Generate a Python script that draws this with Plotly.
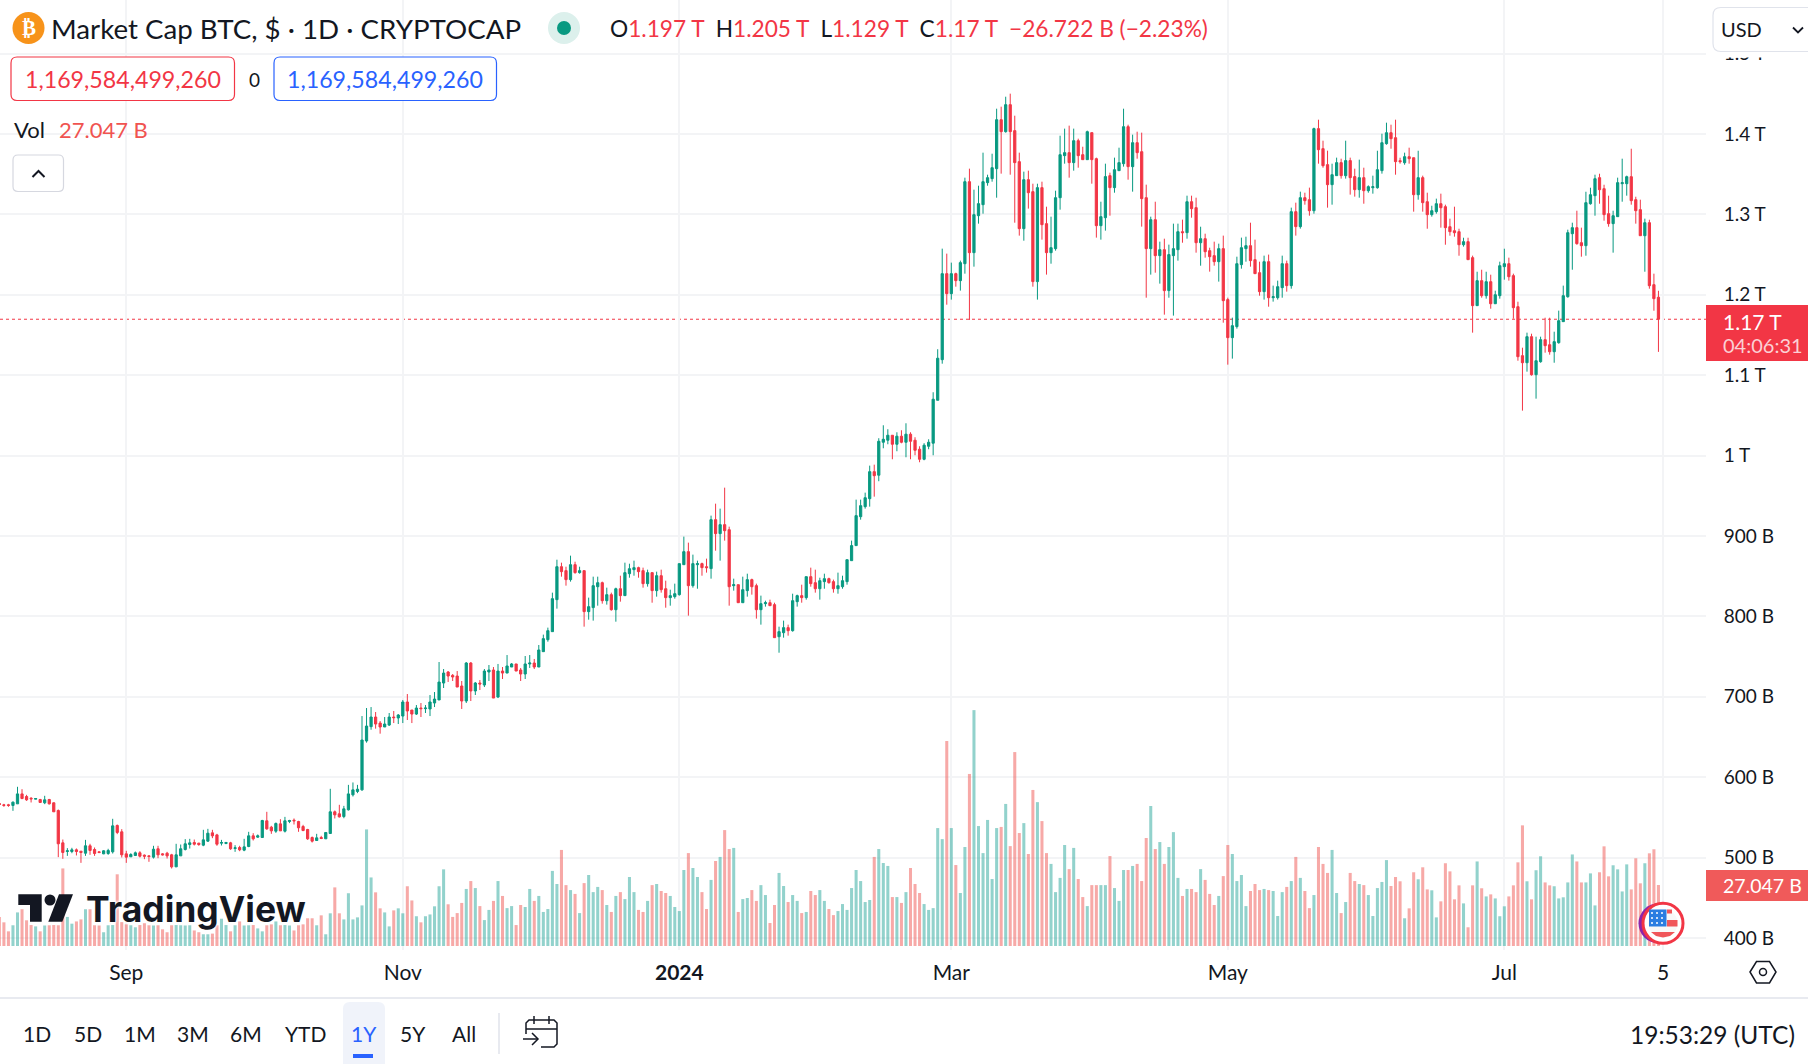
import pandas as pd
import plotly.graph_objects as go

W = 1808
H = 1064
PLOT_R = 1706  # right edge of the pane, price scale starts here
PLOT_B = 950

# daily candles from 4 Aug 2023 to 4 Aug 2024, billions of dollars
directions = (
    "ddduudddud" "udddduuddu" "ddduuudddu" "uddduddddu" "uuudduuddu" "ududuuduud" "duduuddddd"
    "uduudduuuu" "uuudduuduu" "dduduuuuud" "dddududuud" "uduudduudu" "uuuuddudud" "uuudududuu"
    "uddududduu" "uuduuddudu" "dduduudduu" "dduuduudud" "duudduuuuu" "uuuduuudud" "uddduuuuud"
    "uduuduuuuu" "ududdduddu" "dduuuududd" "udduuduuud" "udddududuu" "ududdudddu" "dduuuudddu"
    "duuudududd" "uddduududd" "uduuuuuddd" "uddudduudd" "ddduddudud" "uuuddddudu" "udduuuuudd"
    "uuuddduuuu" "ddduddd"
)

body_tops = [
    567.2, 565.6, 565.6, 568.9, 579.2, 579.2, 575.9, 573.8, 573.4, 572.2,
    571.8, 572.2, 568.1, 558.5, 518.3, 508.4, 509.6, 509.6, 507.9, 514.6,
    514.6, 510.0, 507.1, 508.4, 508.8, 539.4, 539.9, 532.0, 504.6, 503.8,
    505.9, 505.9, 503.0, 502.1, 510.4, 510.9, 504.6, 505.4, 503.4, 503.4,
    510.9, 517.1, 518.3, 518.7, 517.9, 522.0, 530.3, 530.7, 528.2, 518.7,
    518.7, 518.3, 512.1, 512.5, 513.3, 527.0, 527.0, 527.0, 546.1, 545.7,
    537.8, 542.4, 541.9, 545.7, 546.1, 546.5, 544.8, 538.6, 534.9, 524.9,
    524.5, 524.9, 531.2, 556.9, 556.9, 554.4, 560.6, 579.2, 584.2, 585.0,
    646.2, 663.6, 674.8, 674.8, 667.3, 666.1, 674.8, 674.8, 677.3, 693.5,
    693.5, 683.5, 686.0, 686.0, 686.0, 693.5, 697.2, 718.3, 729.5, 730.8,
    726.6, 725.8, 713.4, 742.0, 742.0, 717.1, 717.1, 732.0, 733.3, 733.3,
    732.0, 732.0, 738.3, 740.8, 740.8, 733.3, 740.8, 742.0, 742.0, 758.2,
    772.3, 782.2, 822.0, 861.8, 861.8, 856.9, 864.3, 864.3, 856.9, 856.9,
    812.1, 838.2, 841.9, 841.9, 827.0, 827.0, 834.4, 834.4, 854.4, 859.3,
    860.6, 860.6, 856.9, 854.4, 854.4, 850.6, 850.6, 834.4, 825.8, 828.2,
    865.6, 880.5, 880.5, 865.6, 865.6, 865.6, 861.8, 920.3, 920.3, 914.1,
    914.1, 907.8, 839.4, 839.4, 833.2, 845.7, 845.7, 838.2, 815.8, 817.0,
    817.0, 814.6, 781.0, 786.0, 786.0, 819.5, 825.8, 825.8, 849.4, 849.4,
    841.9, 844.4, 846.9, 846.9, 843.2, 838.2, 844.4, 870.5, 888.0, 925.3,
    937.7, 947.6, 980.0, 980.0, 1017.8, 1020.3, 1025.3, 1025.3, 1024.1, 1024.1,
    1026.6, 1026.6, 1019.1, 1007.9, 1012.9, 1016.6, 1070.1, 1121.1, 1226.3, 1226.3,
    1226.3, 1226.3, 1240.0, 1340.7, 1340.7, 1299.7, 1313.4, 1340.7, 1345.7, 1358.1,
    1417.8, 1417.8, 1436.5, 1436.5, 1404.2, 1365.6, 1343.2, 1343.2, 1328.3, 1333.3,
    1333.3, 1288.5, 1258.6, 1320.8, 1374.3, 1376.8, 1376.8, 1391.7, 1391.7, 1374.3,
    1402.9, 1401.7, 1369.3, 1297.2, 1347.0, 1348.2, 1355.6, 1364.4, 1409.1, 1409.1,
    1389.2, 1389.2, 1378.0, 1320.8, 1293.4, 1293.4, 1256.1, 1256.1, 1250.0, 1257.4,
    1278.5, 1278.5, 1315.8, 1315.8, 1308.4, 1269.8, 1269.8, 1254.9, 1248.7, 1257.4,
    1257.4, 1194.0, 1161.6, 1238.7, 1258.6, 1261.1, 1261.1, 1243.7, 1227.5, 1241.2,
    1241.2, 1197.7, 1210.1, 1238.7, 1238.7, 1303.4, 1303.4, 1320.8, 1320.8, 1318.3,
    1406.7, 1406.7, 1381.8, 1361.9, 1349.4, 1364.4, 1364.4, 1366.9, 1366.9, 1347.0,
    1345.7, 1345.7, 1334.5, 1334.5, 1355.6, 1389.2, 1401.6, 1401.6, 1395.4, 1366.8,
    1371.8, 1371.8, 1370.5, 1345.7, 1345.7, 1315.8, 1304.6, 1313.3, 1313.3, 1309.6,
    1284.7, 1279.7, 1278.5, 1266.1, 1266.1, 1246.2, 1217.6, 1217.6, 1216.3, 1216.3,
    1200.1, 1236.2, 1238.7, 1238.7, 1223.8, 1185.2, 1124.3, 1147.9, 1147.9, 1118.0,
    1144.2, 1144.2, 1137.9, 1141.7, 1167.8, 1198.9, 1277.3, 1283.5, 1283.5, 1264.8,
    1314.6, 1324.5, 1344.4, 1345.7, 1332.0, 1300.9, 1298.4, 1339.5, 1339.5, 1346.9,
    1346.9, 1318.3, 1305.9, 1289.7, 1289.7, 1212.6, 1197.0,
]
body_bottoms = [
    566.0, 564.8, 564.8, 564.8, 566.8, 573.4, 571.8, 573.0, 572.6, 568.5,
    568.1, 566.8, 556.9, 517.1, 506.3, 507.5, 507.5, 507.5, 506.3, 505.4,
    508.8, 505.0, 506.3, 504.6, 505.0, 507.1, 531.2, 503.4, 500.5, 500.9,
    502.5, 501.7, 501.7, 501.3, 500.5, 503.4, 503.4, 502.1, 488.4, 488.4,
    502.1, 510.0, 516.2, 516.6, 516.2, 515.4, 520.4, 527.0, 516.6, 517.9,
    517.5, 510.9, 511.3, 509.6, 509.2, 513.7, 523.3, 525.4, 524.9, 535.7,
    533.2, 532.8, 533.2, 532.8, 544.8, 545.7, 537.0, 533.6, 523.3, 520.4,
    521.2, 523.7, 523.3, 529.9, 553.1, 550.6, 551.0, 559.4, 578.0, 582.2,
    584.2, 645.0, 662.8, 666.1, 662.4, 662.4, 664.8, 674.0, 673.6, 676.0,
    682.3, 678.5, 678.5, 685.2, 685.2, 684.8, 692.2, 696.0, 717.1, 725.8,
    724.6, 712.1, 694.7, 694.7, 707.2, 707.2, 715.9, 714.6, 730.8, 698.4,
    699.7, 729.5, 729.5, 737.0, 732.0, 728.3, 728.3, 740.8, 737.0, 737.0,
    756.1, 771.0, 781.0, 820.8, 855.6, 845.7, 845.7, 854.4, 854.4, 805.9,
    805.9, 810.9, 836.9, 819.5, 819.5, 808.3, 808.3, 825.8, 825.8, 853.1,
    858.1, 855.6, 840.7, 840.7, 832.0, 832.0, 833.2, 823.3, 823.3, 824.5,
    827.0, 864.3, 838.2, 838.2, 864.3, 860.6, 860.6, 859.4, 902.9, 902.9,
    906.6, 836.9, 838.2, 817.0, 817.0, 832.0, 836.9, 808.3, 808.3, 815.8,
    813.3, 773.5, 774.7, 779.7, 782.2, 782.2, 818.3, 823.3, 823.3, 840.7,
    834.4, 834.4, 843.2, 841.9, 834.4, 834.4, 836.9, 843.2, 869.3, 888.0,
    924.0, 936.5, 946.4, 975.0, 975.6, 1016.6, 1019.1, 1014.1, 1014.1, 1016.6,
    1016.6, 1017.8, 1006.6, 995.4, 995.4, 1011.6, 1015.4, 1068.8, 1119.3, 1201.4,
    1201.4, 1217.6, 1217.6, 1238.7, 1252.4, 1252.4, 1298.4, 1312.1, 1339.5, 1344.5,
    1356.9, 1402.9, 1402.9, 1402.9, 1364.4, 1282.3, 1282.3, 1327.0, 1216.4, 1216.4,
    1287.2, 1252.4, 1252.4, 1257.4, 1320.8, 1373.1, 1364.4, 1364.4, 1373.1, 1368.1,
    1368.1, 1368.1, 1286.0, 1286.0, 1295.9, 1333.3, 1333.3, 1354.4, 1363.1, 1359.4,
    1359.4, 1376.8, 1319.6, 1257.4, 1257.4, 1248.7, 1248.7, 1205.2, 1205.2, 1248.7,
    1256.1, 1277.3, 1277.3, 1307.1, 1264.8, 1264.8, 1253.6, 1247.4, 1241.2, 1241.2,
    1192.7, 1146.7, 1146.7, 1160.4, 1237.5, 1257.4, 1242.5, 1226.3, 1203.9, 1203.9,
    1196.4, 1196.4, 1196.4, 1208.9, 1211.4, 1211.4, 1284.8, 1284.8, 1317.1, 1304.6,
    1304.6, 1380.5, 1360.6, 1337.0, 1337.0, 1348.2, 1348.2, 1348.2, 1345.7, 1330.8,
    1330.8, 1329.5, 1329.5, 1333.2, 1333.2, 1354.4, 1388.0, 1394.2, 1365.6, 1365.6,
    1364.3, 1369.3, 1324.5, 1324.5, 1314.6, 1299.7, 1299.7, 1303.4, 1308.3, 1283.5,
    1278.5, 1277.2, 1262.3, 1262.3, 1243.7, 1186.5, 1186.5, 1198.9, 1198.9, 1188.9,
    1188.9, 1198.9, 1235.0, 1222.5, 1184.0, 1123.0, 1115.5, 1115.5, 1100.6, 1100.6,
    1116.8, 1136.7, 1129.2, 1129.2, 1140.4, 1166.6, 1197.6, 1276.0, 1263.6, 1261.1,
    1261.1, 1313.3, 1323.3, 1330.7, 1299.7, 1288.5, 1288.5, 1297.2, 1338.2, 1338.2,
    1317.1, 1304.6, 1273.5, 1273.5, 1211.3, 1195.2, 1169.6,
]
highs = [
    568.1, 566.8, 566.8, 569.7, 588.0, 585.0, 578.0, 575.1, 573.4, 573.0,
    576.8, 573.0, 568.5, 559.8, 522.4, 511.7, 512.1, 511.3, 507.9, 522.0,
    517.1, 512.5, 507.9, 509.2, 510.9, 548.2, 541.1, 535.3, 508.4, 505.4,
    507.5, 507.9, 503.8, 503.0, 514.6, 514.6, 505.4, 507.1, 504.6, 517.1,
    516.2, 522.9, 523.3, 522.4, 518.3, 534.5, 535.7, 534.5, 529.5, 522.0,
    519.5, 519.5, 515.4, 514.6, 523.3, 532.0, 530.3, 528.7, 546.9, 556.9,
    539.4, 543.6, 547.7, 550.6, 546.9, 548.6, 545.7, 540.7, 535.7, 526.2,
    529.5, 527.0, 531.2, 585.5, 558.5, 565.6, 564.3, 590.4, 593.4, 590.4,
    676.0, 686.0, 687.2, 681.0, 669.8, 674.8, 679.8, 682.3, 678.5, 696.0,
    703.4, 683.5, 689.7, 692.2, 689.7, 702.2, 705.9, 743.2, 734.5, 732.0,
    728.3, 732.0, 719.6, 743.2, 743.2, 718.4, 720.8, 734.5, 739.5, 737.0,
    740.8, 737.0, 751.9, 742.0, 740.8, 735.8, 750.7, 751.9, 747.0, 764.4,
    777.3, 786.0, 829.5, 870.5, 866.8, 861.8, 875.5, 868.0, 861.8, 856.9,
    823.3, 849.4, 849.4, 843.2, 835.7, 829.5, 835.7, 850.6, 866.8, 865.5,
    869.3, 861.8, 860.6, 858.1, 854.4, 855.6, 858.1, 844.4, 833.2, 840.7,
    865.6, 899.2, 891.7, 876.8, 869.3, 866.8, 871.8, 925.3, 940.2, 934.0,
    960.1, 911.6, 846.9, 839.4, 849.4, 853.1, 846.9, 840.7, 825.8, 819.5,
    820.8, 817.0, 787.2, 794.7, 789.7, 828.2, 827.0, 839.4, 849.4, 860.6,
    858.1, 848.1, 853.1, 848.1, 845.7, 854.4, 850.6, 870.5, 894.2, 945.2,
    945.2, 953.9, 987.5, 988.7, 1021.6, 1037.7, 1032.8, 1025.3, 1029.0, 1031.5,
    1040.2, 1029.0, 1022.8, 1011.6, 1015.4, 1020.3, 1078.8, 1132.3, 1257.4, 1251.2,
    1240.0, 1227.5, 1242.5, 1345.7, 1356.9, 1330.8, 1335.7, 1376.8, 1349.4, 1375.5,
    1431.5, 1434.0, 1446.4, 1450.2, 1422.8, 1376.8, 1353.2, 1354.4, 1338.2, 1338.2,
    1340.7, 1309.6, 1297.2, 1329.5, 1397.9, 1406.7, 1410.4, 1406.7, 1394.2, 1384.2,
    1404.2, 1401.7, 1370.6, 1315.8, 1363.1, 1351.9, 1370.6, 1383.0, 1431.5, 1411.6,
    1399.2, 1402.9, 1401.7, 1337.0, 1297.2, 1315.8, 1266.1, 1269.8, 1262.4, 1288.5,
    1288.5, 1293.5, 1323.3, 1323.3, 1320.8, 1284.7, 1276.0, 1258.6, 1266.1, 1263.6,
    1273.6, 1196.4, 1171.6, 1247.4, 1271.1, 1272.3, 1289.7, 1268.6, 1241.2, 1248.7,
    1250.0, 1211.4, 1217.6, 1248.7, 1242.5, 1308.4, 1314.6, 1328.3, 1327.0, 1333.3,
    1407.9, 1417.8, 1391.7, 1379.3, 1363.1, 1370.6, 1369.3, 1391.7, 1370.6, 1356.9,
    1368.1, 1358.1, 1336.1, 1348.2, 1379.2, 1400.4, 1414.1, 1411.6, 1417.8, 1370.5,
    1376.8, 1383.0, 1370.5, 1379.2, 1348.2, 1327.0, 1310.8, 1319.6, 1325.8, 1312.1,
    1294.7, 1309.6, 1282.2, 1271.0, 1271.0, 1248.7, 1228.7, 1231.2, 1228.7, 1225.0,
    1205.1, 1241.2, 1257.3, 1246.2, 1226.3, 1191.4, 1134.2, 1152.9, 1151.6, 1147.9,
    1147.9, 1171.5, 1171.5, 1154.1, 1180.3, 1211.4, 1281.0, 1289.7, 1304.6, 1283.5,
    1328.2, 1333.2, 1349.4, 1350.6, 1336.9, 1323.3, 1304.6, 1345.7, 1369.3, 1348.2,
    1381.7, 1322.0, 1318.3, 1294.7, 1293.4, 1226.3, 1205.0,
]
lows = [
    564.8, 563.1, 563.1, 558.1, 566.8, 572.6, 570.5, 568.5, 572.6, 568.1,
    566.4, 566.0, 556.9, 500.5, 498.4, 502.1, 505.4, 502.6, 493.4, 502.1,
    503.4, 502.1, 505.4, 504.2, 503.4, 505.0, 529.1, 500.1, 493.4, 500.9,
    502.1, 500.1, 498.0, 494.7, 498.8, 499.2, 502.6, 498.8, 486.4, 488.4,
    502.1, 508.8, 511.2, 515.0, 514.6, 514.1, 519.5, 524.1, 514.6, 515.0,
    516.6, 509.6, 507.1, 507.9, 507.9, 512.9, 521.2, 524.5, 524.9, 534.5,
    529.5, 530.7, 533.2, 531.2, 542.8, 541.1, 532.0, 532.8, 522.0, 518.7,
    520.8, 522.9, 523.3, 529.9, 548.6, 549.8, 548.9, 558.5, 575.9, 580.1,
    583.0, 642.9, 659.0, 660.3, 654.1, 662.4, 663.6, 667.3, 666.1, 667.3,
    671.1, 667.3, 677.3, 674.8, 679.8, 676.0, 687.2, 696.0, 710.9, 718.4,
    719.6, 712.1, 684.8, 692.2, 694.7, 702.2, 708.4, 712.1, 719.6, 698.4,
    698.4, 722.1, 729.5, 737.0, 732.0, 719.6, 722.1, 735.8, 734.5, 737.0,
    756.1, 768.5, 781.0, 809.6, 849.4, 838.2, 843.2, 853.1, 853.1, 787.2,
    795.9, 794.7, 813.3, 815.8, 814.6, 807.1, 793.4, 818.3, 825.8, 848.1,
    850.6, 848.1, 835.7, 837.0, 817.0, 824.5, 829.5, 810.8, 813.3, 822.0,
    825.8, 864.3, 800.9, 835.7, 834.4, 850.6, 854.4, 846.9, 881.7, 869.3,
    894.2, 813.3, 832.0, 817.0, 817.0, 824.5, 827.0, 797.2, 789.7, 812.1,
    813.3, 773.5, 754.8, 773.5, 776.0, 781.0, 812.1, 817.0, 820.8, 836.9,
    829.5, 820.8, 834.4, 840.7, 829.5, 828.2, 834.4, 839.4, 869.3, 888.0,
    920.3, 934.0, 936.5, 948.9, 968.1, 1009.1, 1014.1, 995.4, 1005.4, 1015.3,
    997.9, 995.4, 1000.4, 991.7, 994.2, 1007.9, 1000.4, 1068.8, 1114.3, 1187.7,
    1194.0, 1210.1, 1205.2, 1226.3, 1168.7, 1235.0, 1288.5, 1300.9, 1335.7, 1340.7,
    1320.8, 1350.7, 1401.7, 1349.4, 1289.7, 1273.6, 1267.3, 1307.2, 1210.1, 1194.0,
    1268.6, 1225.1, 1238.7, 1254.9, 1305.9, 1363.1, 1345.7, 1354.4, 1358.1, 1368.1,
    1368.1, 1338.2, 1271.1, 1268.6, 1279.8, 1298.4, 1327.0, 1354.4, 1359.4, 1343.2,
    1328.3, 1369.3, 1284.8, 1196.4, 1225.1, 1227.5, 1213.9, 1175.3, 1196.4, 1174.1,
    1242.5, 1264.8, 1269.8, 1295.9, 1252.4, 1236.2, 1246.2, 1228.8, 1236.2, 1216.4,
    1165.3, 1113.1, 1120.6, 1157.9, 1232.5, 1241.2, 1235.0, 1226.3, 1198.9, 1194.0,
    1185.2, 1191.5, 1194.0, 1196.4, 1203.9, 1207.6, 1273.6, 1282.3, 1312.1, 1298.4,
    1300.9, 1363.1, 1358.1, 1308.4, 1312.1, 1348.2, 1344.5, 1344.5, 1324.6, 1322.1,
    1320.8, 1313.3, 1327.0, 1325.8, 1332.0, 1350.7, 1386.7, 1381.7, 1349.4, 1363.1,
    1361.8, 1363.1, 1303.4, 1318.3, 1303.4, 1282.2, 1297.2, 1300.9, 1283.5, 1262.3,
    1273.5, 1272.3, 1248.6, 1259.9, 1243.7, 1152.9, 1186.5, 1196.4, 1195.2, 1182.7,
    1188.9, 1195.2, 1218.8, 1217.6, 1170.3, 1118.0, 1055.9, 1104.4, 1099.4, 1070.8,
    1115.5, 1128.0, 1125.5, 1115.5, 1139.2, 1166.6, 1196.4, 1231.2, 1262.3, 1247.4,
    1248.6, 1312.1, 1298.4, 1313.3, 1292.2, 1284.7, 1252.4, 1297.2, 1315.8, 1323.3,
    1312.1, 1288.5, 1273.5, 1228.7, 1207.6, 1180.2, 1129.0,
]
volumes = [
    12.9, 10.5, 6.5, 9.2, 14.9, 16.3, 11.4, 9.3, 8.7, 6.5,
    9.1, 9.2, 9.3, 9.2, 34.4, 12.9, 9.9, 10.9, 11.8, 16.3,
    16.3, 9.2, 9.1, 6.1, 9.2, 9.3, 31.8, 10.6, 9.6, 9.2,
    8.3, 9.3, 10.1, 9.2, 9.1, 9.2, 7.4, 6.1, 9.2, 9.3,
    9.2, 9.1, 9.2, 6.9, 6.1, 5.2, 5.2, 5.5, 9.2, 12.1,
    9.3, 6.5, 9.2, 10.9, 9.1, 9.2, 9.3, 7.8, 6.5, 9.2,
    9.6, 10.9, 9.2, 9.3, 9.1, 6.9, 9.2, 9.6, 12.3, 12.3,
    9.2, 13.6, 5.2, 14.5, 26.0, 14.5, 11.8, 23.4, 11.8, 12.7,
    18.0, 51.7, 30.4, 23.8, 16.7, 14.9, 8.7, 15.8, 16.7, 14.5,
    26.5, 20.2, 13.2, 10.5, 13.2, 14.0, 17.6, 26.5, 34.0, 18.5,
    12.9, 14.6, 19.1, 25.3, 28.8, 25.7, 17.7, 11.5, 16.0, 20.0,
    28.8, 22.2, 16.8, 17.7, 9.3, 18.2, 17.3, 25.3, 20.0, 22.2,
    15.1, 16.4, 33.3, 27.5, 42.6, 27.0, 24.8, 23.1, 14.6, 27.9,
    31.5, 23.9, 26.2, 24.8, 18.2, 15.1, 22.2, 23.9, 20.8, 30.6,
    23.9, 16.0, 15.1, 20.0, 27.0, 27.5, 24.4, 23.5, 22.2, 17.3,
    15.5, 33.7, 41.2, 34.6, 30.6, 23.9, 16.4, 29.3, 37.7, 39.5,
    51.4, 43.0, 43.5, 15.1, 20.8, 21.3, 24.8, 20.0, 27.0, 22.6,
    10.2, 18.2, 32.4, 26.6, 19.5, 22.6, 20.0, 14.6, 15.1, 24.4,
    22.6, 24.8, 20.0, 16.4, 13.7, 15.5, 18.6, 16.0, 25.7, 33.7,
    28.8, 19.5, 20.4, 39.5, 43.0, 36.8, 35.5, 21.7, 21.7, 19.1,
    23.9, 34.6, 27.5, 23.5, 18.6, 16.0, 16.8, 52.3, 47.4, 90.9,
    52.3, 35.9, 23.5, 43.9, 76.3, 104.6, 53.2, 41.2, 55.9, 29.7,
    52.3, 52.8, 63.0, 44.3, 86.0, 50.1, 54.5, 40.8, 69.2, 63.8,
    55.4, 41.2, 36.4, 23.9, 30.2, 44.8, 34.1, 43.5, 29.7, 21.7,
    17.7, 27.0, 27.0, 27.0, 27.0, 39.9, 25.7, 20.0, 33.7, 33.7,
    35.5, 36.4, 28.8, 47.9, 62.1, 43.0, 46.1, 36.4, 43.9, 50.5,
    30.2, 22.2, 25.3, 25.3, 23.9, 34.1, 29.3, 23.1, 18.2, 22.2,
    31.0, 44.8, 40.8, 28.8, 31.5, 17.7, 24.4, 27.5, 24.8, 25.3,
    24.8, 24.4, 13.3, 23.9, 26.2, 28.8, 39.5, 30.2, 24.4, 16.8,
    22.6, 43.9, 36.4, 32.4, 42.6, 23.5, 14.6, 19.5, 32.4, 28.8,
    27.5, 27.0, 22.6, 13.3, 25.7, 28.4, 38.1, 26.6, 30.6, 28.7,
    12.3, 16.7, 32.7, 29.6, 34.9, 25.1, 24.7, 12.7, 19.8, 36.7,
    33.1, 20.7, 26.9, 18.9, 8.3, 26.9, 37.5, 25.6, 22.0, 22.9,
    21.1, 13.2, 17.6, 22.0, 26.9, 37.1, 53.5, 28.7, 20.7, 33.6,
    39.8, 28.2, 26.9, 26.5, 21.1, 21.6, 28.2, 40.6, 37.5, 28.2,
    28.2, 32.2, 18.0, 32.7, 44.2, 30.9, 35.8, 34.0, 24.2, 36.2,
    25.1, 38.9, 27.8, 36.7, 41.1, 42.9, 27.05,
]

time_ticks = ["2023-09-01", "2023-11-01", "2024-01-01", "2024-03-01", "2024-05-01", "2024-07-01", "2024-08-05"]
time_labels = ["Sep", "Nov", "<b>2024</b>", "Mar", "May", "Jul", "5"]
price_ticks = [400, 500, 600, 700, 800, 900, 1000, 1100, 1200, 1300, 1400, 1500]
price_labels = ["400 B", "500 B", "600 B", "700 B", "800 B", "900 B", "1 T", "1.1 T", "1.2 T", "1.3 T", "1.4 T", "1.5 T"]
range_buttons = ["1D", "5D", "1M", "3M", "6M", "YTD", "1Y", "5Y", "All"]
range_button_x = [37, 88, 140, 193, 246, 305, 364, 413, 464]

assert len(directions) == len(highs) == len(lows) == len(body_tops) == len(body_bottoms) == len(volumes), (
    len(directions), len(highs), len(lows), len(body_tops), len(body_bottoms), len(volumes))

FONT = "Lato"
INK = "#131722"
UP = "#089981"
DOWN = "#f23645"
GRID = "#f3f4f6"

dates = pd.date_range("2023-08-04", periods=len(highs), freq="D")
opens = [b if d == "u" else t for d, t, b in zip(directions, body_tops, body_bottoms)]
closes = [t if d == "u" else b for d, t, b in zip(directions, body_tops, body_bottoms)]
vol_colors = ["rgba(38,166,154,0.5)" if d == "u" else "rgba(239,83,80,0.5)" for d in directions]


def fx(x):
    return x / W


def fy(y):
    return 1 - y / H


fig = go.Figure()

fig.add_trace(go.Bar(x=dates, y=volumes, marker=dict(color=vol_colors, line_width=0), yaxis="y", hoverinfo="skip"))
fig.add_trace(go.Candlestick(
    x=dates, open=opens, high=highs, low=lows, close=closes, yaxis="y2",
    increasing=dict(line=dict(color=UP, width=1), fillcolor=UP),
    decreasing=dict(line=dict(color=DOWN, width=1), fillcolor=DOWN),
    whiskerwidth=0,
))

fig.update_layout(
    width=W, height=H, margin=dict(l=0, r=0, t=0, b=0),
    autosize=False,
    paper_bgcolor="white", plot_bgcolor="white",
    showlegend=False, bargap=0.33,
    font=dict(family=FONT, color=INK, size=20),
    xaxis=dict(
        domain=[0, PLOT_R / W], type="date", rangeslider=dict(visible=False),
        range=["2023-08-04 03:22", "2024-08-14 11:45"],
        tickmode="array", tickvals=time_ticks, ticktext=time_labels,
        showgrid=True, gridcolor=GRID, gridwidth=1.5, zeroline=False, showline=False,
        ticks="outside", ticklen=4, tickcolor="rgba(0,0,0,0)", tickfont=dict(size=21, color=INK),
        tickangle=0,
    ),
    yaxis=dict(
        domain=[fy(PLOT_B), 1], range=[-1.77, 419.5],
        showgrid=False, zeroline=False, showticklabels=False, ticks="",
    ),
    yaxis2=dict(
        domain=[fy(PLOT_B), 1], range=[385, 1566.7], overlaying="y", side="right", anchor="x",
        tickmode="array", tickvals=price_ticks, ticktext=price_labels,
        showgrid=True, gridcolor=GRID, gridwidth=1.5, zeroline=False, showline=False,
        ticks="outside", ticklen=13, tickcolor="rgba(0,0,0,0)", tickfont=dict(size=19, color=INK),
    ),
)

shapes = []
notes = []


def box(x0, y0, x1, y1, fill=None, line=None, width=1.2, r=0, layer="above"):
    # rounded rectangle in screen pixels
    if r:
        path = (
            f"M {fx(x0 + r)} {fy(y0)} L {fx(x1 - r)} {fy(y0)} Q {fx(x1)} {fy(y0)} {fx(x1)} {fy(y0 + r)} "
            f"L {fx(x1)} {fy(y1 - r)} Q {fx(x1)} {fy(y1)} {fx(x1 - r)} {fy(y1)} "
            f"L {fx(x0 + r)} {fy(y1)} Q {fx(x0)} {fy(y1)} {fx(x0)} {fy(y1 - r)} "
            f"L {fx(x0)} {fy(y0 + r)} Q {fx(x0)} {fy(y0)} {fx(x0 + r)} {fy(y0)} Z"
        )
        shapes.append(dict(type="path", path=path, xref="paper", yref="paper", layer=layer,
                           fillcolor=fill or "rgba(0,0,0,0)", line=dict(color=line or "rgba(0,0,0,0)", width=width)))
    else:
        shapes.append(dict(type="rect", x0=fx(x0), x1=fx(x1), y0=fy(y0), y1=fy(y1), xref="paper", yref="paper",
                           layer=layer, fillcolor=fill or "rgba(0,0,0,0)",
                           line=dict(color=line or "rgba(0,0,0,0)", width=width if line else 0)))


def dot(cx, cy, r, fill=None, line=None, width=0):
    shapes.append(dict(type="circle", x0=fx(cx - r), x1=fx(cx + r), y0=fy(cy - r), y1=fy(cy + r),
                       xref="paper", yref="paper", layer="above", fillcolor=fill or "rgba(0,0,0,0)",
                       line=dict(color=line or "rgba(0,0,0,0)", width=width)))


def poly(points, fill=None, line=None, width=1.5, close=True):
    path = "M " + " L ".join(f"{fx(x)} {fy(y)}" for x, y in points) + (" Z" if close else "")
    shapes.append(dict(type="path", path=path, xref="paper", yref="paper", layer="above",
                       fillcolor=fill or "rgba(0,0,0,0)", line=dict(color=line or "rgba(0,0,0,0)", width=width if line else 0)))


def label(x, y, text, size=20, color=INK, anchor="left", **font):
    notes.append(dict(x=fx(x), y=fy(y), xref="paper", yref="paper", text=text, showarrow=False,
                      xanchor=anchor, yanchor="middle", borderpad=0,
                      font=dict(size=size, color=color, family=font.pop("family", FONT), **font)))


# last price line
shapes.append(dict(type="line", x0=0, x1=fx(PLOT_R), y0=closes[-1], y1=closes[-1], xref="paper", yref="y2",
                   layer="below", line=dict(color=DOWN, width=1, dash="dot")))

# header
dot(28.5, 28, 16, fill="#f7931a")
label(28.5, 28, "₿", size=21, color="white", anchor="center", family="DejaVu Sans", weight="bold")
label(50, 29, "Market Cap BTC, $ · 1D · CRYPTOCAP", size=27.7)
dot(564, 28, 16, fill="#dcf0ec")
dot(564, 28, 7, fill=UP)
red = f'<span style="color:{DOWN}">'
label(609, 29, f"O{red}1.197 T</span>  H{red}1.205 T</span>  L{red}1.129 T</span>  C{red}1.17 T</span>  {red}−26.722 B (−2.23%)</span>", size=22.7)

box(11, 57, 234.5, 100.5, fill="white", line=DOWN, r=6)
label(122.7, 79, "1,169,584,499,260", size=23.2, color=DOWN, anchor="center")
label(254, 79, "0", size=19, anchor="center")
box(274, 57, 496.5, 100.5, fill="white", line="#2962ff", r=6)
label(385, 79, "1,169,584,499,260", size=23.2, color="#2962ff", anchor="center")
label(12.5, 130, "Vol", size=22)
label(58, 130, "27.047 B", size=22, color="#f05350")
box(13, 155, 63.5, 191.5, fill="white", line="#d6d8e0", r=5)
poly([(32.5, 177), (38.5, 171), (44.5, 177)], line=INK, width=2, close=False)

# currency button, with the white strip below it that hides most of the 1.5 T label
box(1706, 50, W, 57.5, fill="white")
box(1713, 7.5, 1830, 51.5, fill="white", line="#e0e3eb", r=8)
label(1720, 28.5, "USD", size=20)
poly([(1793, 27.5), (1798, 32.5), (1803, 27.5)], line=INK, width=1.8, close=False)

# price scale tags
box(PLOT_R, 305, W, 361, fill=DOWN)
label(1722, 321, "1.17 T", size=21, color="white")
label(1722, 345, "04:06:31", size=20, color="#fbd0d4")
box(PLOT_R, 870, W, 901, fill="#f05a5a")
label(1722, 885.5, "27.047 B", size=19.5, color="white")

# logo
poly([(18.3, 894.3), (41.7, 894.3), (41.7, 921.7), (30, 921.7), (30, 905), (18.3, 905)], fill=INK)
dot(50, 900, 5.5, fill=INK)
poly([(59, 894.3), (73, 894.3), (62.3, 921.7), (48.3, 921.7)], fill=INK)
label(85, 909, "TradingView", size=35.5, family="Inter", weight="bold",
      shadow="0 0 3px white, 0 0 3px white, 0 0 3px white")

# economic events marker
dot(1658.5, 923.3, 20, fill="#8e24aa")
dot(1663, 923.3, 20, fill="white", line=DOWN, width=3)
dot(1663, 923.3, 14.5, fill="#f8f8f8")
box(1649, 909.5, 1666.5, 926.5, fill="#2a7de1")
for sx in (1652, 1657, 1662):
    for sy in (913, 918, 923):
        dot(sx, sy, 1, fill="white")
box(1667, 920, 1677.5, 926.5, fill="#f0565a")
box(1667, 909.5, 1672, 913.5, fill="#f0565a")
poly([(1651, 932), (1675, 932), (1670, 936), (1663, 937.5), (1656, 936)], fill="#f0565a")

# settings hexagon
poly([(1750, 972), (1756.5, 961.5), (1769.5, 961.5), (1776, 972), (1769.5, 983), (1756.5, 983)], line=INK, width=1.5)
dot(1763, 972, 3.5, line=INK, width=1.5)

# bottom toolbar
shapes.append(dict(type="line", x0=0, x1=1, y0=fy(998), y1=fy(998), xref="paper", yref="paper",
                   line=dict(color="#e0e3eb", width=1.5)))
box(343, 1002, 385, 1080, fill="#f0f3fa", r=7)
box(353, 1054, 373, 1058, fill="#2962ff")
for name, bx in zip(range_buttons, range_button_x):
    label(bx, 1033, name, size=21, color="#2962ff" if name == "1Y" else INK, anchor="center")
shapes.append(dict(type="line", x0=fx(499), x1=fx(499), y0=fy(1013), y1=fy(1054), xref="paper", yref="paper",
                   line=dict(color="#e0e3eb", width=1.5)))
# calendar button
poly([(526, 1034), (526, 1023), (529, 1020), (554, 1020), (557, 1023), (557, 1044), (554, 1047), (541, 1047)],
     line=INK, width=1.5, close=False)
poly([(526, 1029), (557, 1029)], line=INK, width=1.5, close=False)
poly([(534, 1016), (534, 1024)], line=INK, width=1.5, close=False)
poly([(549, 1016), (549, 1024)], line=INK, width=1.5, close=False)
poly([(523, 1039), (538, 1039)], line=INK, width=1.5, close=False)
poly([(532, 1033), (538, 1039), (532, 1045)], line=INK, width=1.5, close=False)
label(1796, 1034, "19:53:29 (UTC)", size=24.5, anchor="right")

fig.update_layout(shapes=shapes, annotations=notes)
# the page keeps an 8px body margin otherwise
fig.write_html("out.html", config={"displayModeBar": False}, post_script="document.body.style.margin='0';")
